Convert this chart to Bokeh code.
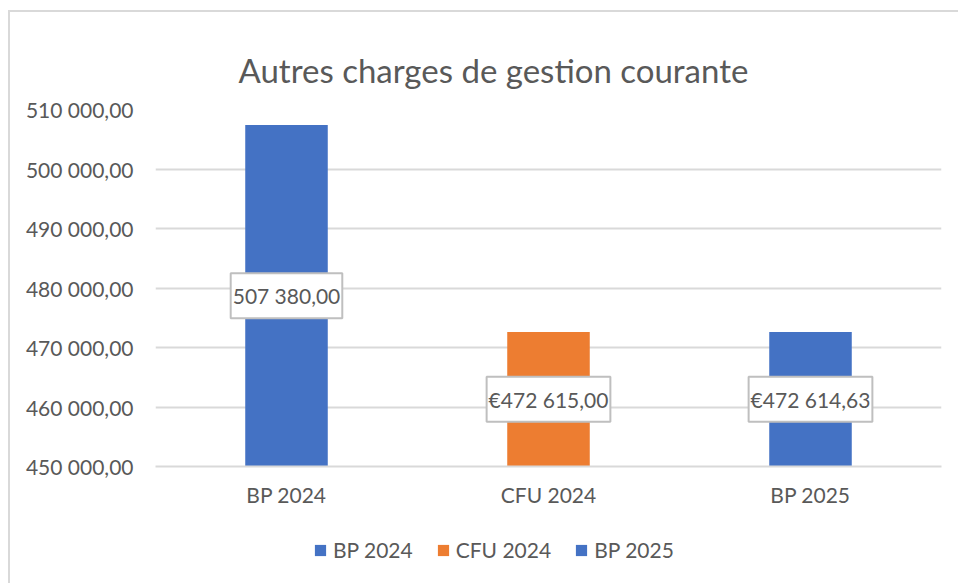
from bokeh.plotting import figure
from bokeh.layouts import column
from bokeh.models import (ColumnDataSource, FactorRange, Range1d, FixedTicker, Label,
                          Legend, LegendItem)
from bokeh.embed import file_html
from bokeh.resources import INLINE

categories = ["BP 2024", "CFU 2024", "BP 2025"]
values = [507380.00, 472615.00, 472614.63]
value_labels = ["507 380,00", "€472 615,00", "€472 614,63"]
colors = ["#4472C4", "#ED7D31", "#4472C4"]
y_ticks = [450000, 460000, 470000, 480000, 490000, 500000, 510000]
y_tick_labels = ["450 000,00", "460 000,00", "470 000,00", "480 000,00",
                 "490 000,00", "500 000,00", "510 000,00"]
y_min, y_max = 450000, 510000

FONT = "Lato"
GRAY = "#595959"
GRID = "#d9d9d9"

src = ColumnDataSource(dict(
    cat=categories,
    val=values,
    bottom=[y_min] * len(values),
    color=colors,
))

p = figure(x_range=FactorRange(*categories, range_padding=0),
           y_range=Range1d(y_min, y_max),
           width=948, height=508, output_backend="svg", toolbar_location=None,
           min_border_left=145, min_border_right=17, min_border_top=97,
           min_border_bottom=54)
p.outline_line_color = None

bars = p.vbar(x="cat", top="val", bottom="bottom", width=0.315, color="color",
              line_color=None, source=src)

# categorical factor i is centred at synthetic coordinate i + 0.5
for i, (val, lab) in enumerate(zip(values, value_labels)):
    p.add_layout(Label(x=i + 0.5, y=(y_min + val) / 2, text=lab, text_align="center",
                       text_baseline="middle", text_font=FONT, text_font_size="21px",
                       text_color=GRAY, background_fill_color="white",
                       border_line_color="#bfbfbf", border_line_width=2,
                       padding=(2, 10)))

p.title.text = "Autres charges de gestion courante"
p.title.text_font = FONT
p.title.text_font_size = "33px"
p.title.text_font_style = "normal"
p.title.text_color = GRAY
p.title.align = "left"
p.title.vertical_align = "top"
p.title.offset = 83
p.title.standoff = 36

p.yaxis.ticker = FixedTicker(ticks=y_ticks)
p.yaxis.major_label_overrides = {t: l for t, l in zip(y_ticks, y_tick_labels)}
p.yaxis.axis_line_color = None
p.yaxis.major_tick_line_color = None
p.yaxis.minor_tick_line_color = None
p.yaxis.major_tick_out = 0
p.yaxis.major_label_text_font = FONT
p.yaxis.major_label_text_font_size = "21px"
p.yaxis.major_label_text_color = GRAY
p.yaxis.major_label_standoff = 22

p.xaxis.axis_line_color = GRID
p.xaxis.axis_line_width = 2
p.xaxis.major_tick_line_color = None
p.xaxis.minor_tick_line_color = None
p.xaxis.major_tick_out = 0
p.xaxis.major_label_text_font = FONT
p.xaxis.major_label_text_font_size = "21px"
p.xaxis.major_label_text_color = GRAY
p.xaxis.major_label_standoff = 15

p.xgrid.grid_line_color = None
p.ygrid.grid_line_color = GRID
p.ygrid.grid_line_width = 2

# legend strip below the chart; its zero-width bars only supply legend swatches
pl = figure(x_range=FactorRange(*categories, range_padding=0), y_range=Range1d(0, 1),
            width=948, height=63, output_backend="svg", toolbar_location=None,
            min_border=0)
pl.outline_line_color = None
pl.xaxis.visible = False
pl.yaxis.visible = False
pl.grid.visible = False
leg_bars = pl.vbar(x="cat", top="val", bottom="bottom", width=0, color="color",
                   line_color=None, source=src)

legend = Legend(items=[LegendItem(label=c, renderers=[leg_bars], index=i)
                       for i, c in enumerate(categories)],
                orientation="horizontal", location=(158, 21),
                glyph_width=14, glyph_height=14, label_standoff=6, spacing=23,
                padding=0, margin=0, border_line_color=None,
                background_fill_alpha=0,
                label_text_font=FONT, label_text_font_size="21px",
                label_text_color=GRAY)
pl.add_layout(legend)

layout = column(p, pl, spacing=0,
                styles={"margin-left": "8px", "margin-top": "10px",
                        "border-top": "2px solid #d9d9d9",
                        "border-left": "2px solid #d9d9d9",
                        "border-right": "0", "box-shadow": "none",
                        "outline": "none"})

open("out.html", "w").write(file_html(layout, INLINE))
